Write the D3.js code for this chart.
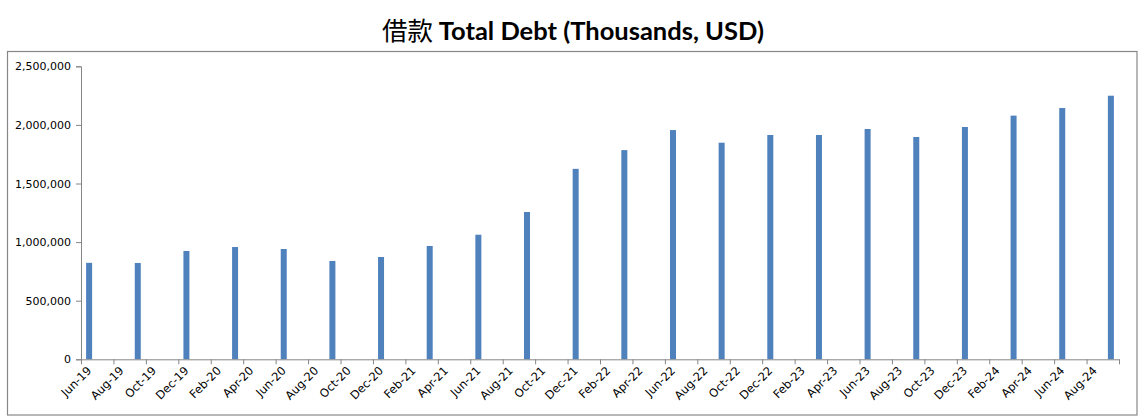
<!DOCTYPE html>
<html><head><meta charset="utf-8">
<script src="https://cdn.jsdelivr.net/npm/d3@7"></script>
<style>body{margin:0;background:#fff}svg{display:block}</style>
</head><body>
<svg id="chart" width="1147" height="419"></svg>
<script>
const titleCJK = "借款";
const titleLatin = "Total Debt (Thousands, USD)";
const barDates = ["2019-06","2019-09","2019-12","2020-03","2020-06","2020-09","2020-12","2021-03","2021-06","2021-09","2021-12","2022-03","2022-06","2022-09","2022-12","2023-03","2023-06","2023-09","2023-12","2024-03","2024-06","2024-09"];
const debtValues = [823000,822000,924000,958000,941000,839000,873000,967000,1063000,1257000,1625000,1785000,1956000,1848000,1914000,1914000,1965000,1897000,1982000,2079000,2144000,2249000];
const xTickLabels = ["Jun-19","Aug-19","Oct-19","Dec-19","Feb-20","Apr-20","Jun-20","Aug-20","Oct-20","Dec-20","Feb-21","Apr-21","Jun-21","Aug-21","Oct-21","Dec-21","Feb-22","Apr-22","Jun-22","Aug-22","Oct-22","Dec-22","Feb-23","Apr-23","Jun-23","Aug-23","Oct-23","Dec-23","Feb-24","Apr-24","Jun-24","Aug-24"];
const yTicks = [0,500000,1000000,1500000,2000000,2500000];
const axisStart = "2019-06", axisEnd = "2024-10";

(function () {
const svg = d3.select("#chart");
const parse = d3.timeParse("%Y-%m");
const fmtKey = d3.timeFormat("%Y-%m");
const months = d3.timeMonth.range(parse(axisStart), parse(axisEnd)).map(fmtKey);

const pL = 81, pR = 1119, pT = 66.3, pB = 359.3;
const x = d3.scaleBand().domain(months).range([pL, pR]).paddingInner(0).paddingOuter(0);
const y = d3.scaleLinear().domain([0, 2500000]).range([pB, pT]);

// outer border
svg.append("rect").attr("x", 7.5).attr("y", 51.5).attr("width", 1129.5).attr("height", 363.5)
  .attr("fill", "none").attr("stroke", "#878787").attr("stroke-width", 1.2);

// title
const t = svg.append("text").attr("x", 573).attr("y", 40).attr("text-anchor", "middle")
  .attr("font-size", 25.5).attr("fill", "#000");
t.append("tspan").attr("font-family", "'Noto Sans CJK SC'").attr("font-weight", 400).text(titleCJK + " ");
t.append("tspan").attr("font-family", "Lato, 'Open Sans', sans-serif").attr("font-weight", 700).text(titleLatin);

// bars
svg.append("g").selectAll("rect").data(barDates).join("rect")
  .attr("x", d => x(d) + x.bandwidth() / 2 - 3)
  .attr("width", 6)
  .attr("y", (d, i) => y(debtValues[i]))
  .attr("height", (d, i) => y(0) - y(debtValues[i]))
  .attr("fill", "#4F81BD");

// y axis
const yAxis = svg.append("g").attr("transform", `translate(${pL},0)`)
  .call(d3.axisLeft(y).tickValues(yTicks).tickSize(5).tickPadding(5).tickFormat(d3.format(",")));
yAxis.select(".domain").attr("stroke", "#868686");
yAxis.selectAll(".tick line").attr("stroke", "#868686");
yAxis.selectAll("text").attr("font-family", "'DejaVu Sans', Verdana, sans-serif").attr("font-size", 11).attr("fill", "#000");

// x axis: ticks at month slot starts every 2 months plus end
const xIdx = d3.scaleLinear().domain([0, months.length]).range([pL, pR]);
const tickIdx = d3.range(0, months.length + 1, 2);
const xAxis = svg.append("g").attr("transform", `translate(0,${pB})`)
  .call(d3.axisBottom(xIdx).tickValues(tickIdx).tickSize(5).tickSizeOuter(0).tickFormat(() => ""));
xAxis.select(".domain").attr("stroke", "#868686");
xAxis.selectAll(".tick line").attr("stroke", "#868686");

svg.append("g").selectAll("text").data(xTickLabels).join("text")
  .attr("transform", (d, i) => `translate(${xIdx(i * 2 + 0.5) + 3},${pB + 12}) rotate(-45)`)
  .attr("text-anchor", "end")
  .attr("font-family", "'DejaVu Sans', Verdana, sans-serif").attr("font-size", 11.5).attr("fill", "#000")
  .text(d => d);
})();
</script>
</body></html>
